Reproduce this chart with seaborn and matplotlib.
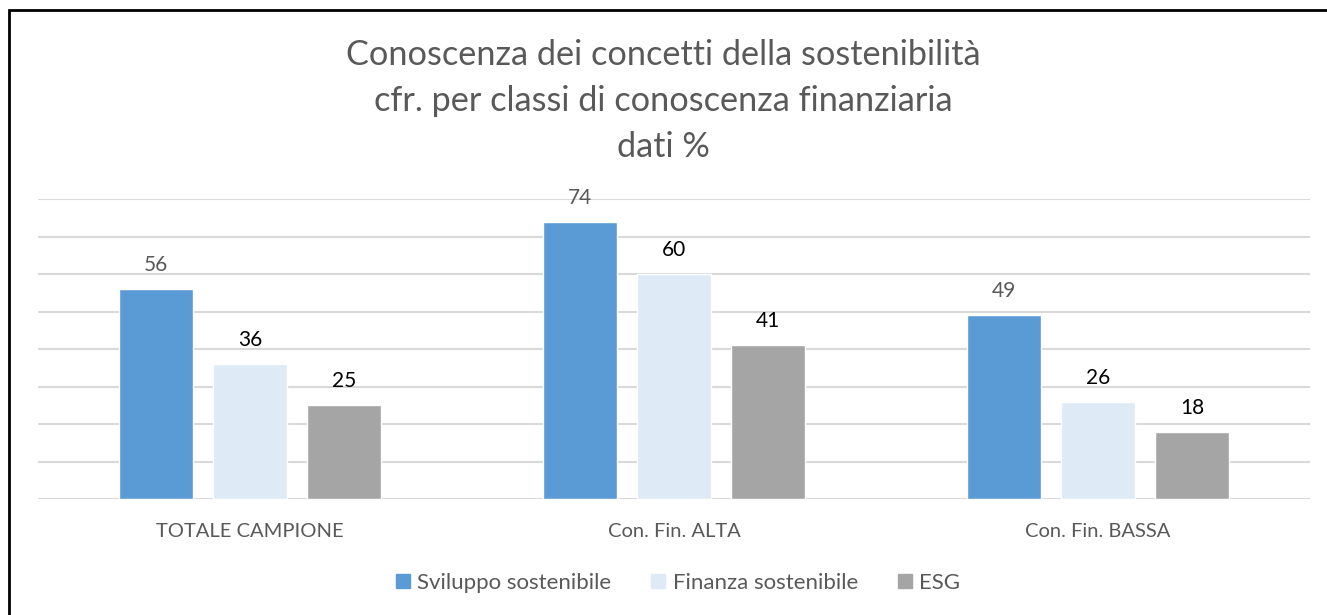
import pandas as pd
import numpy as np
import seaborn as sns
import matplotlib
matplotlib.use("Agg")
import matplotlib.pyplot as plt
from matplotlib.patches import Rectangle
from matplotlib.lines import Line2D

### DATA
categorie = ["TOTALE CAMPIONE", "Con. Fin. ALTA", "Con. Fin. BASSA"]
serie = ["Sviluppo sostenibile", "Finanza sostenibile", "ESG"]
sviluppo = [56, 74, 49]
finanza = [36, 60, 26]
esg = [25, 41, 18]
colori = ["#5b9bd5", "#deebf7", "#a5a5a5"]
colori_etichette = ["#595959", "#000000", "#000000"]

df = pd.DataFrame({
    "categoria": categorie * 3,
    "serie": [s for s in serie for _ in categorie],
    "valore": sviluppo + finanza + esg,
})

### PLOT
sns.set_style("white")
plt.rcParams["font.family"] = ["Lato", "DejaVu Sans"]

fig = plt.figure(figsize=(13.27, 6.15), dpi=100)
ax = fig.add_axes([38 / 1327, 1 - 499 / 615, 1272 / 1327, 300 / 615])

sns.barplot(data=df, x="categoria", y="valore", hue="serie", order=categorie,
            hue_order=serie, palette=colori, width=0.665, ax=ax, legend=False,
            saturation=1)

# gaps between the bars of a group
for cont in ax.containers:
    for bar in cont:
        w = bar.get_width()
        bar.set_x(bar.get_x() + w * 0.106)
        bar.set_width(w * 0.788)

for cont, col in zip(ax.containers, colori_etichette):
    ax.bar_label(cont, padding=10, fontsize=15, color=col)

ax.set_ylim(0, 80)
ax.set_xlim(-0.5, 2.5)
ax.set_yticks(np.arange(0, 81, 10))
ax.set_yticklabels([])
ax.tick_params(axis="y", length=0)
ax.tick_params(axis="x", length=0, labelsize=14.5, labelcolor="#595959", pad=17)
ax.grid(axis="y", color="#d9d9d9", linewidth=1.5)
ax.set_axisbelow(True)
for s in ax.spines.values():
    s.set_visible(False)
ax.set_xlabel("")
ax.set_ylabel("")

fig.text(0.5, 1 - 101 / 615,
         "Conoscenza dei concetti della sostenibilità\ncfr. per classi di conoscenza finanziaria\ndati %",
         ha="center", va="center", fontsize=24.7, color="#595959", linespacing=1.52)

handles = [Line2D([], [], marker="s", linestyle="", markersize=10, color=c) for c in colori]
fig.legend(handles, serie, loc="center", bbox_to_anchor=(676 / 1327, 1 - 583 / 615), ncol=3,
           frameon=False, fontsize=16, labelcolor="#595959", handlelength=1.0,
           handletextpad=0.15, columnspacing=1.6)

fig.patches.append(Rectangle((9 / 1327, -0.1), 1.2, 1 - 10 / 615 + 0.1,
                             transform=fig.transFigure, fill=False,
                             edgecolor="black", linewidth=2))

fig.savefig("out.png", dpi=100)
